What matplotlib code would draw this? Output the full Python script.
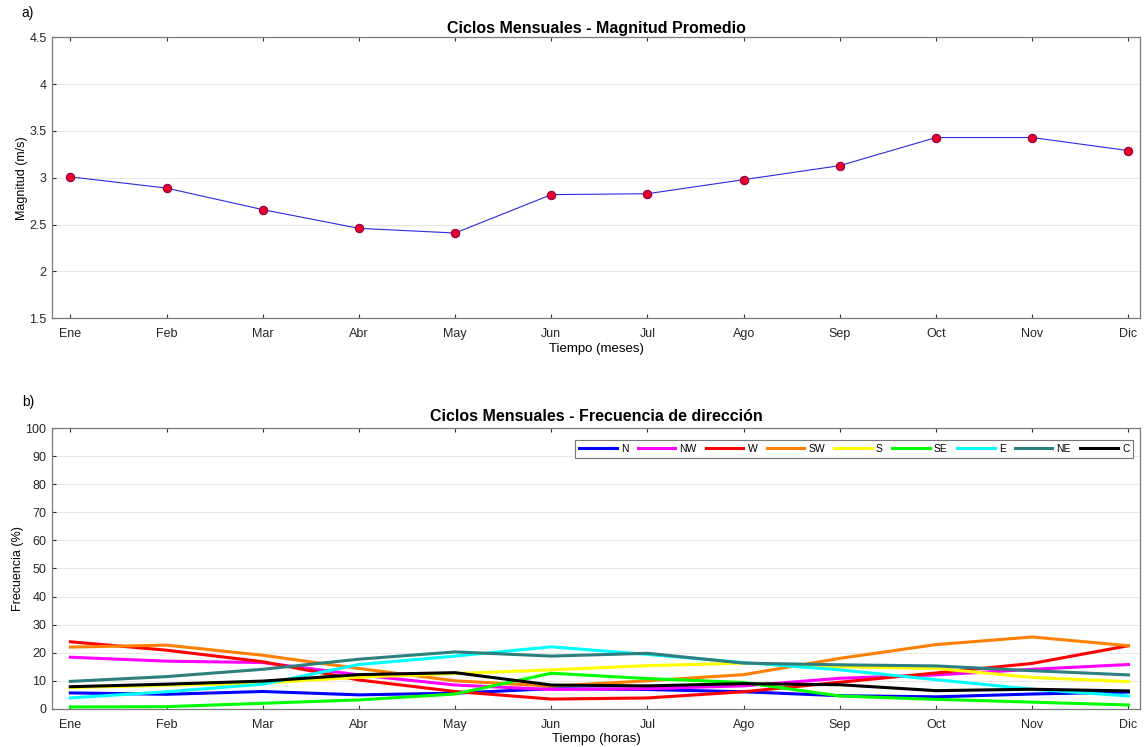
import numpy as np
import matplotlib
matplotlib.use("Agg")
import matplotlib.pyplot as plt

plt.rcParams['font.family'] = ['Liberation Sans', 'DejaVu Sans']

# monthly data
meses = ['Ene', 'Feb', 'Mar', 'Abr', 'May', 'Jun', 'Jul', 'Ago', 'Sep', 'Oct', 'Nov', 'Dic']
magnitud = [3.01, 2.89, 2.66, 2.46, 2.41, 2.82, 2.83, 2.98, 3.13, 3.43, 3.43, 3.29]

direcciones = ['N', 'NW', 'W', 'SW', 'S', 'SE', 'E', 'NE', 'C']
freq_N = [5.7, 5.2, 6.2, 5.0, 5.6, 7.2, 6.9, 6.1, 4.7, 4.3, 5.3, 6.0]
freq_NW = [18.4, 17.0, 16.5, 12.1, 8.5, 6.9, 7.2, 8.2, 10.9, 12.1, 14.1, 15.8]
freq_W = [23.9, 20.9, 16.8, 10.3, 6.2, 3.5, 3.9, 6.1, 9.5, 12.8, 16.2, 22.5]
freq_SW = [22.0, 22.7, 19.1, 14.4, 10.0, 8.1, 10.0, 12.2, 18.0, 22.9, 25.6, 22.5]
freq_S = [7.6, 8.4, 9.2, 11.3, 12.6, 13.9, 15.4, 16.3, 15.0, 14.4, 11.2, 9.7]
freq_SE = [0.7, 0.8, 2.0, 3.2, 5.3, 12.7, 10.8, 9.4, 4.6, 3.4, 2.4, 1.4]
freq_E = [3.9, 6.1, 8.8, 15.8, 18.8, 22.1, 19.4, 16.5, 13.9, 10.4, 7.0, 4.6]
freq_NE = [9.8, 11.5, 14.1, 17.7, 20.3, 18.8, 19.8, 16.3, 15.7, 15.3, 13.6, 12.1]
freq_C = [7.9, 8.8, 9.9, 12.2, 12.9, 8.5, 8.2, 9.0, 8.6, 6.5, 7.0, 6.4]

colores = ['#0000ff', '#ff00ff', '#ff0000', '#ff8000', '#ffff00', '#00ff00', '#00ffff', '#2e8080', '#000000']
series = [freq_N, freq_NW, freq_W, freq_SW, freq_S, freq_SE, freq_E, freq_NE, freq_C]

x = np.arange(1, len(meses) + 1)

fig = plt.figure(figsize=(11.44, 7.47), dpi=100)
ax1 = fig.add_axes([0.0455, 0.574, 0.951, 0.376])
ax2 = fig.add_axes([0.0455, 0.051, 0.951, 0.376])


def style_axis(ax):
    ax.set_xlim(0.81, 12.12)
    ax.set_xticks(x)
    ax.set_xticklabels(meses)
    ax.grid(True, axis='y', color='#e8e8e8', linewidth=0.8)
    ax.set_axisbelow(True)
    for s in ax.spines.values():
        s.set_color('#7a7a7a')
        s.set_linewidth(0.9)
    ax.tick_params(direction='in', top=True, right=False, length=3,
                   labelsize=9, colors='#333333', labelcolor='#262626')
    ax.tick_params(axis='x', pad=7)
    ax.tick_params(axis='y', pad=4)


# a) magnitud
ax1.plot(x, magnitud, color='#2a2ae0', linewidth=0.8, marker='o', markersize=6,
         markerfacecolor='#e8002a', markeredgecolor='#900040', markeredgewidth=0.8)
style_axis(ax1)
ax1.set_ylim(1.5, 4.5)
ax1.set_yticks([1.5, 2, 2.5, 3, 3.5, 4, 4.5])
ax1.set_yticklabels(['1.5', '2', '2.5', '3', '3.5', '4', '4.5'])
ax1.set_ylabel('Magnitud (m/s)', fontsize=9, labelpad=1)
ax1.set_xlabel('Tiempo (meses)', fontsize=9.5, labelpad=2)
ax1.set_title('Ciclos Mensuales - Magnitud Promedio', fontsize=11.5, fontweight='bold', pad=3)

# b) frecuencia de direccion
for serie, col, nom in zip(series, colores, direcciones):
    ax2.plot(x, serie, color=col, linewidth=2.2, label=nom)
style_axis(ax2)
ax2.set_ylim(0, 100)
ax2.set_yticks(np.arange(0, 101, 10))
ax2.set_ylabel('Frecuencia (%)', fontsize=9, labelpad=1)
ax2.set_xlabel('Tiempo (horas)', fontsize=9.5, labelpad=2)
ax2.set_title('Ciclos Mensuales - Frecuencia de dirección', fontsize=11.5, fontweight='bold', pad=5)
leg = ax2.legend(loc='upper right', ncol=9, fontsize=7.5, frameon=True, fancybox=False,
                 handlelength=3.6, handletextpad=0.4, columnspacing=0.9,
                 borderpad=0.35, bbox_to_anchor=(0.9985, 0.975))
leg.get_frame().set_edgecolor('#555555')
leg.get_frame().set_linewidth(0.8)

fig.text(0.019, 0.982, 'a)', fontsize=10, va='center')
fig.text(0.019, 0.462, 'b)', fontsize=10, va='center')

fig.savefig('out.png', dpi=100)
